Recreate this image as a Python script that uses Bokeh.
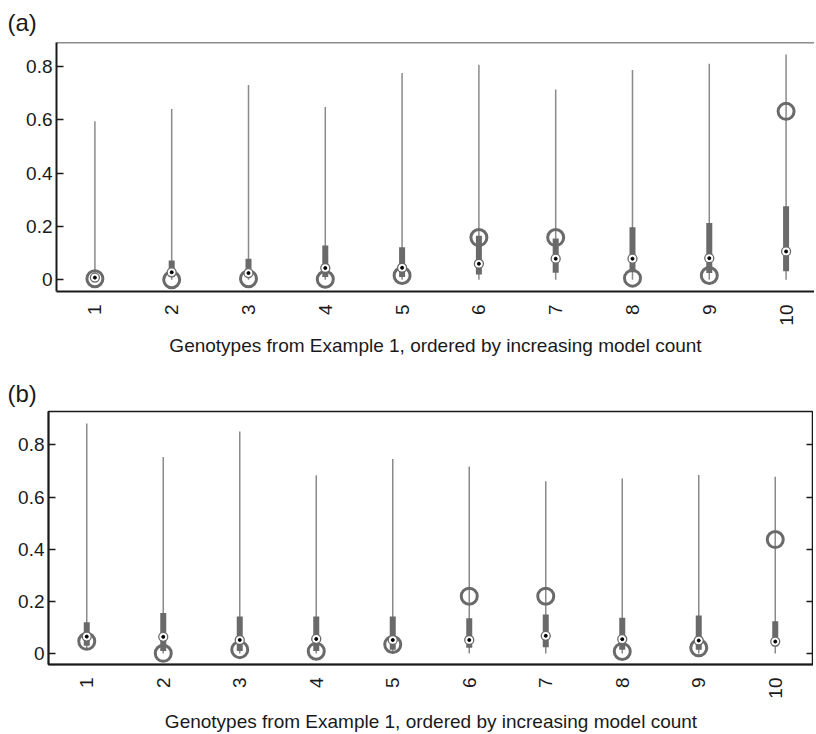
import math
from bokeh.plotting import figure
from bokeh.models import FixedTicker, LinearAxis, Span, Range1d
from bokeh.embed import file_html
from bokeh.resources import INLINE

# ---------------- data ----------------
genotypes = [1, 2, 3, 4, 5, 6, 7, 8, 9, 10]
tick_labels = ["1", "2", "3", "4", "5", "6", "7", "8", "9", "10"]
y_ticks = [0, 0.2, 0.4, 0.6, 0.8]
y_tick_labels = ["0", "0.2", "0.4", "0.6", "0.8"]
x_label = "Genotypes from Example 1, ordered by increasing model count"

# panel (a)
a_low = [0.0, 0.0, 0.0, 0.0, 0.0, 0.0, 0.0, 0.0, 0.0, 0.0]
a_high = [0.594, 0.640, 0.730, 0.647, 0.775, 0.806, 0.713, 0.786, 0.809, 0.844]
a_q1 = [0.0, 0.01, 0.01, 0.01, 0.01, 0.02, 0.026, 0.028, 0.025, 0.032]
a_q3 = [0.015, 0.072, 0.079, 0.128, 0.122, 0.165, 0.155, 0.197, 0.213, 0.275]
a_median = [0.008, 0.028, 0.025, 0.044, 0.045, 0.060, 0.079, 0.079, 0.081, 0.106]
a_truth = [0.004, 0.0, 0.004, 0.002, 0.016, 0.158, 0.158, 0.006, 0.016, 0.631]

# panel (b)
b_low = [0.015, 0.0, 0.0, 0.0, 0.0, 0.0, 0.0, 0.0, 0.0, 0.0]
b_high = [0.882, 0.754, 0.851, 0.684, 0.746, 0.717, 0.661, 0.671, 0.685, 0.678]
b_q1 = [0.03, 0.01, 0.01, 0.01, 0.015, 0.022, 0.024, 0.015, 0.015, 0.028]
b_q3 = [0.120, 0.155, 0.142, 0.142, 0.142, 0.135, 0.150, 0.137, 0.146, 0.124]
b_median = [0.065, 0.064, 0.052, 0.056, 0.052, 0.052, 0.068, 0.055, 0.050, 0.046]
b_truth = [0.047, 0.001, 0.015, 0.009, 0.035, 0.220, 0.220, 0.008, 0.022, 0.437]

FONT = "Liberation Sans"
TXT = "#1a1a1a"
BOX = "#6a6a6a"
WHISK = "#8a8a8a"


def make_panel(tag, low, high, q1, q3, med, truth, fw, fh, xr, yr,
               left, top, bottom, title_standoff, label_standoff,
               right_ticks, top_line):
    p = figure(frame_width=fw, frame_height=fh,
               x_range=Range1d(*xr), y_range=Range1d(*yr),
               output_backend="svg", toolbar_location=None,
               min_border_left=left, min_border_right=0,
               min_border_top=top, min_border_bottom=bottom)
    p.xgrid.visible = False
    p.ygrid.visible = False
    p.background_fill_color = "white"
    p.border_fill_color = "white"

    # title
    p.title.text = tag
    p.title.text_font = FONT
    p.title.text_font_size = "24px"
    p.title.text_font_style = "normal"
    p.title.text_color = TXT
    p.title.align = "left"
    p.title.offset = -(left - 7)
    p.title.standoff = title_standoff

    # glyphs
    p.segment(x0=genotypes, y0=low, x1=genotypes, y1=high,
              line_color=WHISK, line_width=1.5)
    p.segment(x0=genotypes, y0=q1, x1=genotypes, y1=q3,
              line_color=BOX, line_width=6, line_cap="butt")
    p.scatter(x=genotypes, y=truth, size=16, fill_color=None,
              line_color=BOX, line_width=3)
    p.scatter(x=genotypes, y=med, size=9, fill_color="white",
              line_color=BOX, line_width=1.3)
    p.scatter(x=genotypes, y=med, size=3, fill_color="black",
              line_color="black")

    # x axis
    xa = p.xaxis[0]
    xa.ticker = FixedTicker(ticks=genotypes)
    xa.major_label_overrides = {g: t for g, t in zip(genotypes, tick_labels)}
    xa.major_label_orientation = math.pi / 2
    xa.major_label_text_font = FONT
    xa.major_label_text_font_size = "19px"
    xa.major_label_text_color = TXT
    xa.major_label_standoff = 13
    xa.major_tick_in = 0
    xa.major_tick_out = 0
    xa.minor_tick_line_color = None
    xa.axis_line_width = 2
    xa.axis_line_color = TXT
    xa.axis_label = x_label
    xa.axis_label_text_font = FONT
    xa.axis_label_text_font_size = "19px"
    xa.axis_label_text_font_style = "normal"
    xa.axis_label_text_color = TXT
    xa.axis_label_standoff = label_standoff

    # y axis
    ya = p.yaxis[0]
    ya.ticker = FixedTicker(ticks=y_ticks)
    ya.major_label_overrides = {v: t for v, t in zip(y_ticks, y_tick_labels)}
    ya.major_label_text_font = FONT
    ya.major_label_text_font_size = "19px"
    ya.major_label_text_color = TXT
    ya.major_label_standoff = 4
    ya.major_tick_in = 7
    ya.major_tick_out = 0
    ya.major_tick_line_color = TXT
    ya.major_tick_line_width = 1.5
    ya.minor_tick_line_color = None
    ya.axis_line_width = 2
    ya.axis_line_color = TXT

    if right_ticks:
        ra = LinearAxis(ticker=FixedTicker(ticks=y_ticks))
        ra.major_label_overrides = {v: "" for v in y_ticks}
        ra.major_label_standoff = 0
        ra.major_tick_in = 7
        ra.major_tick_out = 0
        ra.major_tick_line_color = TXT
        ra.major_tick_line_width = 1.5
        ra.minor_tick_line_color = None
        ra.axis_line_width = 1.5
        ra.axis_line_color = TXT
        p.add_layout(ra, "right")
        p.outline_line_color = TXT
        p.outline_line_width = 1.5
    else:
        p.outline_line_color = None

    if top_line:
        p.add_layout(Span(location=yr[1], dimension="width",
                          line_color=TXT, line_width=1.5))
    return p


pa = make_panel("(a)", a_low, a_high, a_q1, a_q3, a_median, a_truth,
                fw=758, fh=249, xr=(0.5, 10.37), yr=(-0.044, 0.889),
                left=56, top=42, bottom=67, title_standoff=13,
                label_standoff=6, right_ticks=False, top_line=True)

pb = make_panel("(b)", b_low, b_high, b_q1, b_q3, b_median, b_truth,
                fw=765, fh=253, xr=(0.5, 10.5), yr=(-0.042, 0.928),
                left=48, top=53, bottom=68, title_standoff=9,
                label_standoff=9, right_ticks=True, top_line=False)

open("out.html", "w").write(file_html([pa, pb], INLINE))
